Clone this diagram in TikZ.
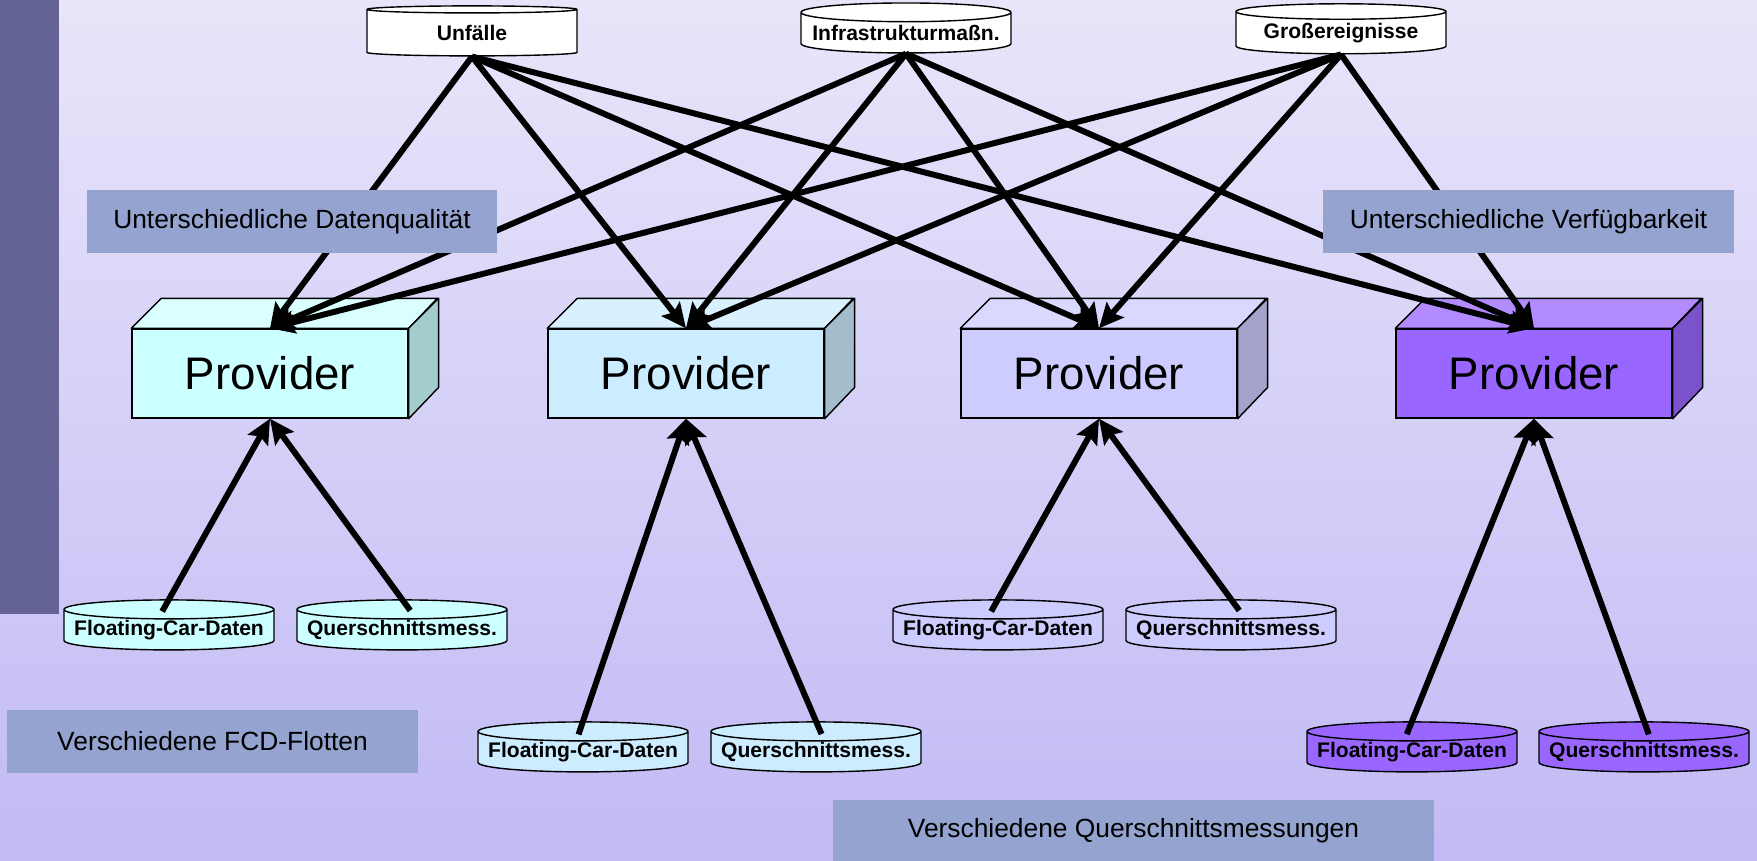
\documentclass[tikz,border=0pt]{standalone}
\usepackage{fontspec}
\setmainfont{Liberation Sans}
\usepackage{xcolor}
\definecolor{ProviderCyan}{rgb}{0.8, 1, 1}
\definecolor{ProviderBlue}{rgb}{0.8, 0.925, 1}
\definecolor{ProviderLavender}{rgb}{0.8, 0.8, 1}
\definecolor{ProviderPurple}{rgb}{0.6, 0.4, 1}
\definecolor{LabelBlue}{rgb}{0.58, 0.64, 0.81}
\definecolor{SideBar}{rgb}{0.39, 0.39, 0.59}
\definecolor{BackTop}{rgb}{0.91, 0.9, 0.98}
\definecolor{BackBottom}{rgb}{0.76, 0.73, 0.96}
\usepackage{tikz}
\usetikzlibrary{shapes.geometric,arrows.meta}

\tikzset{
	provider/.style={draw, line width=0.8pt, minimum width=5.52cm, minimum height=1.78cm, inner sep=0pt, font=\fontsize{26}{30}\selectfont},
	source/.style={cylinder, shape border rotate=90, aspect=0.1, draw, line width=0.8pt, minimum width=4.2cm, minimum height=1cm, inner sep=0pt, font=\bfseries\fontsize{12}{14}\selectfont},
	remark/.style={fill=LabelBlue, inner sep=0pt, minimum width=8.22cm, minimum height=1.26cm, font=\fontsize{15}{18}\selectfont},
	feed/.style={line width=3.4pt, -{Stealth[length=14pt,width=13pt,inset=2.5pt]}}
}

% top and side face of a provider box
\newcommand{\providerfaces}[2]{
	\draw[line width=0.8pt, line join=round, fill=#2!75!white] (#1.north west) -- ++(30,-30) -- ++(276,0) -- (#1.north east) -- cycle;
	\draw[line width=0.8pt, line join=round, fill=#2!80!black] (#1.north east) -- ++(30,-30) -- ++(0,89) -- (#1.south east) -- cycle;
}

\begin{document}
\begin{tikzpicture}[x=0.02cm, y=-0.02cm]
	\useasboundingbox (0,0) rectangle (1757,861);
	\shade[top color=BackTop, bottom color=BackBottom] (0,0) rectangle (1757,861);
	\fill[SideBar] (0,0) rectangle (59,614);

	\node[source, fill=white] (unfaelle) at (472,33) {Unfälle};
	\node[source, fill=white] (infra) at (906,33) {Infrastrukturmaßn.};
	\node[source, fill=white] (gross) at (1341,33) {Großereignisse};

	\node[provider, fill=ProviderCyan] (prov1) at (270,373.5) {Provider};
	\node[provider, fill=ProviderBlue] (prov2) at (686,373.5) {Provider};
	\node[provider, fill=ProviderLavender] (prov3) at (1099,373.5) {Provider};
	\node[provider, fill=ProviderPurple] (prov4) at (1534,373.5) {Provider};
	\providerfaces{prov1}{ProviderCyan}
	\providerfaces{prov2}{ProviderBlue}
	\providerfaces{prov3}{ProviderLavender}
	\providerfaces{prov4}{ProviderPurple}

	\node[source, fill=ProviderCyan] (fcd1) at (169,630) {Floating-Car-Daten};
	\node[source, fill=ProviderCyan] (qm1) at (402,630) {Querschnittsmess.};
	\node[source, fill=ProviderBlue] (fcd2) at (583,752) {Floating-Car-Daten};
	\node[source, fill=ProviderBlue] (qm2) at (816,752) {Querschnittsmess.};
	\node[source, fill=ProviderLavender] (fcd3) at (998,630) {Floating-Car-Daten};
	\node[source, fill=ProviderLavender] (qm3) at (1231,630) {Querschnittsmess.};
	\node[source, fill=ProviderPurple] (fcd4) at (1412,752) {Floating-Car-Daten};
	\node[source, fill=ProviderPurple] (qm4) at (1644,752) {Querschnittsmess.};

	\draw[feed] (unfaelle.south) -- (prov1.north);
	\draw[feed] (unfaelle.south) -- (prov2.north);
	\draw[feed] (unfaelle.south) -- (prov3.north);
	\draw[feed] (unfaelle.south) -- (prov4.north);
	\draw[feed] (infra.south) -- (prov1.north);
	\draw[feed] (infra.south) -- (prov2.north);
	\draw[feed] (infra.south) -- (prov3.north);
	\draw[feed] (infra.south) -- (prov4.north);
	\draw[feed] (gross.south) -- (prov1.north);
	\draw[feed] (gross.south) -- (prov2.north);
	\draw[feed] (gross.south) -- (prov3.north);
	\draw[feed] (gross.south) -- (prov4.north);
	\draw[feed, shorten <=-0.28cm] (fcd1.north) -- (prov1.south);
	\draw[feed, shorten <=-0.28cm] (qm1.north) -- (prov1.south);
	\draw[feed, shorten <=-0.28cm] (fcd2.north) -- (prov2.south);
	\draw[feed, shorten <=-0.28cm] (qm2.north) -- (prov2.south);
	\draw[feed, shorten <=-0.28cm] (fcd3.north) -- (prov3.south);
	\draw[feed, shorten <=-0.28cm] (qm3.north) -- (prov3.south);
	\draw[feed, shorten <=-0.28cm] (fcd4.north) -- (prov4.south);
	\draw[feed, shorten <=-0.28cm] (qm4.north) -- (prov4.south);

	\node[remark] (quality) at (292,221.5) {Unterschiedliche Datenqualität};
	\node[remark] (avail) at (1528.5,221.5) {Unterschiedliche Verfügbarkeit};
	\node[remark] (fleets) at (212.5,741) {Verschiedene FCD-Flotten};
	\node[remark, minimum width=12.02cm] (sections) at (1133.5,831) {Verschiedene Querschnittsmessungen};
\end{tikzpicture}
\end{document}
